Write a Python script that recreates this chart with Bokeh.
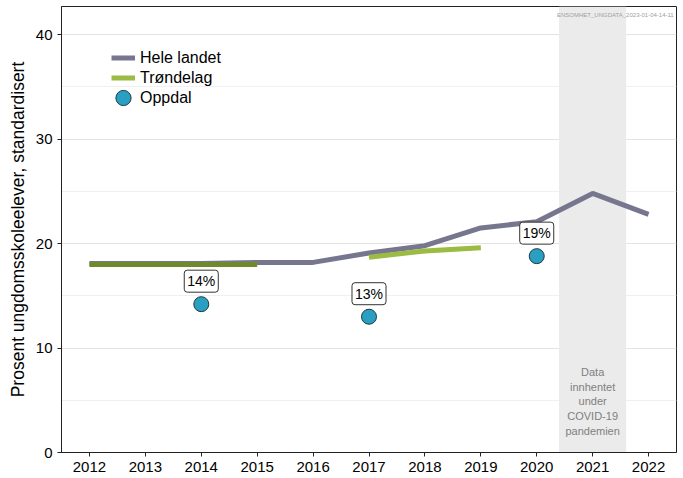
from bokeh.plotting import figure
from bokeh.models import (BoxAnnotation, Label, Legend, LegendItem, FixedTicker, Range1d)
from bokeh.embed import file_html
from bokeh.resources import INLINE

years = [2012, 2013, 2014, 2015, 2016, 2017, 2018, 2019, 2020, 2021, 2022]
hele_landet = [18.1, 18.1, 18.1, 18.2, 18.2, 19.1, 19.8, 21.5, 22.1, 24.8, 22.8]
trond_years_a = [2012, 2013, 2014, 2015]
trond_a = [18.0, 18.0, 18.0, 18.0]
trond_years_b = [2017, 2018, 2019]
trond_b = [18.7, 19.3, 19.6]
oppdal_years = [2014, 2017, 2020]
oppdal = [14.2, 13.0, 18.8]
oppdal_labels = ["14%", "13%", "19%"]
yticks = [0, 10, 20, 30, 40]
covid_start, covid_end = 2020.4, 2021.6
FONT = "Liberation Sans"

p = figure(width=680, height=476, output_backend="svg", toolbar_location=None,
           x_range=Range1d(2011.5, 2022.5), y_range=Range1d(0, 42.7),
           min_border_left=61, min_border_right=4, min_border_top=6, min_border_bottom=24)
p.background_fill_color = "white"
p.outline_line_color = "#222222"
p.outline_line_width = 1

band = BoxAnnotation(left=covid_start, right=covid_end, fill_color="#ebebeb", fill_alpha=1.0,
                     line_alpha=0, level="underlay")
p.add_layout(band)

p.xgrid.visible = False
p.ygrid.ticker = FixedTicker(ticks=yticks, minor_ticks=[5, 15, 25, 35])
p.ygrid.grid_line_color = "#e3e3e3"
p.ygrid.minor_grid_line_color = "#f0f0f0"
p.ygrid.grid_line_width = 1

r_hele = p.line(years, hele_landet, line_color="#76768f", line_width=5)
r_tra = p.line(trond_years_a, trond_a, line_color="#6e8b2c", line_width=5)
r_trb = p.line(trond_years_b, trond_b, line_color="#9bbb42", line_width=5)
r_opp = p.ellipse(x=oppdal_years, y=oppdal, width=15, height=15, width_units="screen",
                  height_units="screen", fill_color="#2b9fc2", line_color="#1a3a45", line_width=1)

for xv, yv, tv in zip(oppdal_years, oppdal, oppdal_labels):
    p.add_layout(Label(x=xv, y=yv, text=tv, y_offset=12, text_align="center",
                       text_baseline="bottom", text_font=FONT, text_font_size="14px",
                       text_color="black",
                       background_fill_color="white", border_line_color="#333333",
                       border_line_width=1, padding=3, border_radius=3))

covid_label = Label(x=(covid_start + covid_end) / 2, y=4.9,
                    text="Data\ninnhentet\nunder\nCOVID-19\npandemien",
                    text_align="center", text_baseline="middle", text_font=FONT,
                    text_font_size="11px", text_color="#808080", text_line_height=1.22)
p.add_layout(covid_label)

stamp = Label(x=2022.45, y=42.2, text="ENSOMHET_UNGDATA_2023-01-04-14-11", text_align="right",
              text_baseline="top", text_font=FONT, text_font_size="6px", text_color="#a0a0a0")
p.add_layout(stamp)

p.xaxis.ticker = FixedTicker(ticks=years)
p.yaxis.ticker = FixedTicker(ticks=yticks)
for ax in (p.xaxis, p.yaxis):
    ax.major_label_text_font = FONT
    ax.major_label_text_font_size = "15px"
    ax.major_label_text_color = "black"
    ax.axis_line_color = "#222222"
    ax.major_tick_line_color = "#222222"
    ax.major_tick_out = 4
    ax.major_tick_in = 0
    ax.minor_tick_line_color = None
p.yaxis.axis_label = "Prosent ungdomsskoleelever, standardisert"
p.yaxis.axis_label_text_font = FONT
p.yaxis.axis_label_text_font_size = "17.5px"
p.yaxis.axis_label_text_font_style = "normal"
p.yaxis.axis_label_text_color = "black"
p.yaxis.axis_label_standoff = 5

legend = Legend(items=[LegendItem(label="Hele landet", renderers=[r_hele]),
                       LegendItem(label="Trøndelag", renderers=[r_trb]),
                       LegendItem(label="Oppdal", renderers=[r_opp])],
                location=(44, 339))
legend.background_fill_alpha = 0
legend.border_line_alpha = 0
legend.label_text_font = FONT
legend.label_text_font_size = "16px"
legend.label_text_color = "black"
legend.glyph_width = 24
legend.glyph_height = 19
legend.label_height = 19
legend.spacing = 1
legend.margin = 0
legend.padding = 6
p.add_layout(legend)

open("out.html", "w").write(file_html(p, INLINE))
